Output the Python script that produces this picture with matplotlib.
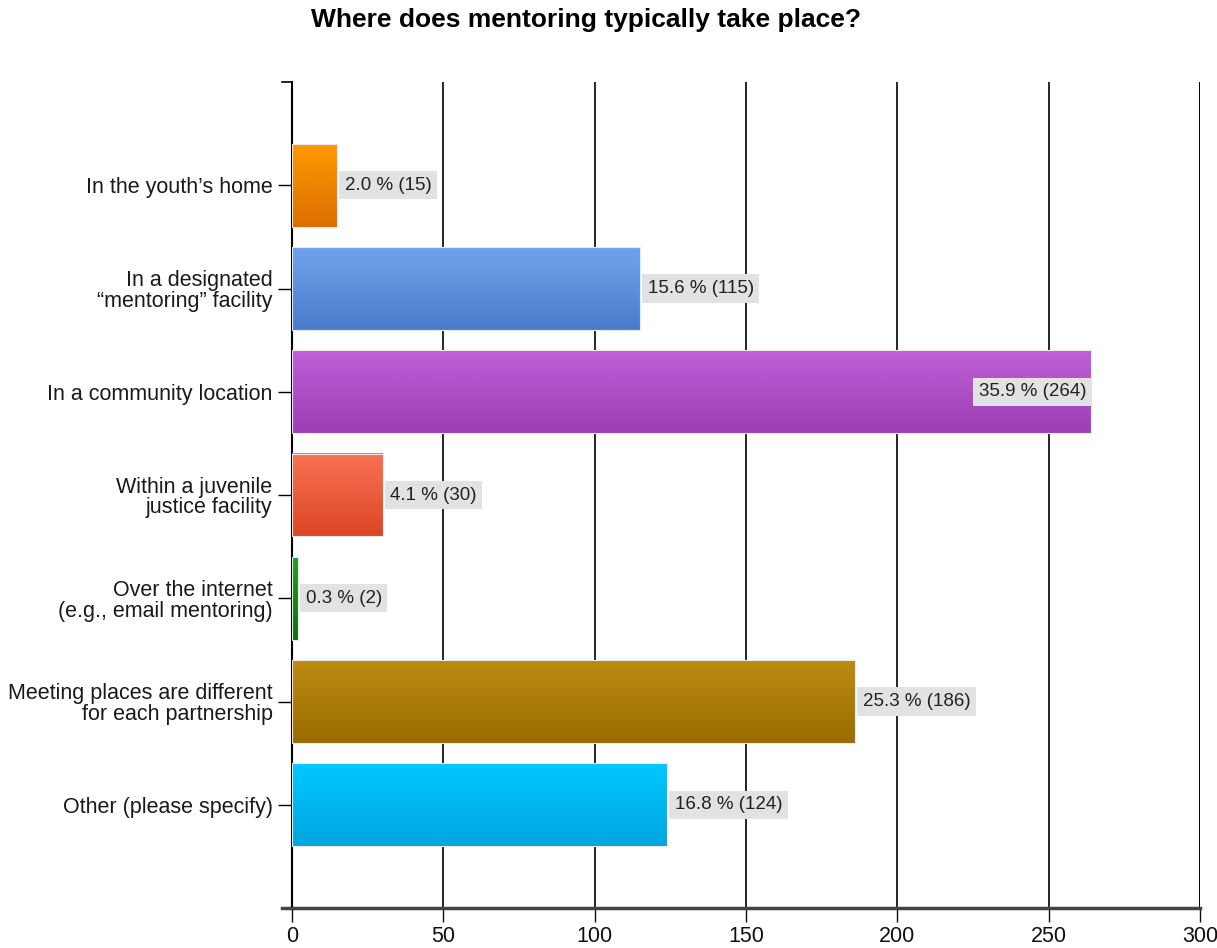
import matplotlib.pyplot as plt
import numpy as np
from matplotlib.colors import LinearSegmentedColormap

plt.rcParams['font.family'] = ['Liberation Sans', 'DejaVu Sans']

categories = [
    "In the youth\u2019s home",
    "In a designated\n\u201cmentoring\u201d facility",
    "In a community location",
    "Within a juvenile\njustice facility",
    "Over the internet\n(e.g., email mentoring)",
    "Meeting places are different\nfor each partnership",
    "Other (please specify)",
]
counts = [15, 115, 264, 30, 2, 186, 124]
percents = [2.0, 15.6, 35.9, 4.1, 0.3, 25.3, 16.8]
# top and bottom colours of each bar's vertical gradient
top_colors = ["#ff9a00", "#70a2ec", "#c060d8", "#f87252", "#2a9a2a", "#bc8c12", "#00c8ff"]
bottom_colors = ["#dc6e00", "#4a7ccc", "#9e3eb4", "#dc4626", "#0e6e0e", "#9a6c00", "#00a6de"]

fig = plt.figure(figsize=(12.17, 9.48), dpi=100)
ax = fig.add_axes([292 / 1217, 1 - 908 / 948, 908 / 1217, 826 / 948])

ax.set_xlim(0, 300)
ax.set_ylim(8, 0)

bar_h = 0.8
grad = np.linspace(0, 1, 64).reshape(-1, 1)
for i, (n, pct) in enumerate(zip(counts, percents)):
    y = i + 1
    cmap = LinearSegmentedColormap.from_list("g", [top_colors[i], bottom_colors[i]])
    ax.imshow(grad, cmap=cmap, aspect="auto", interpolation="bicubic",
              extent=(0, n, y + bar_h / 2, y - bar_h / 2), zorder=3)
    ax.add_patch(plt.Rectangle((0, y - bar_h / 2), n, bar_h, fill=False,
                               edgecolor="#e8e8e8", linewidth=0.8, zorder=4))
    label = f"{pct:.1f} % ({n})"
    box = dict(boxstyle="square,pad=0.3", facecolor="#e2e2e2", edgecolor="none")
    if n > 250:
        ax.text(n - 1.5, y, label, ha="right", va="center", fontsize=13.5,
                color="#222222", bbox=box, zorder=5)
        continue
    ax.text(n + 2.5, y, label, ha="left", va="center", fontsize=13.5,
            color="#222222", bbox=box, zorder=5)

ax.set_xticks(range(0, 301, 50))
ax.set_yticks(range(1, 8))
ax.set_yticklabels(categories, fontsize=15.5, color="#1a1a1a", linespacing=1.0)
ax.tick_params(axis="x", labelsize=15.5, length=10, width=1, colors="#111111", pad=3)
ax.tick_params(axis="y", length=10, width=1, pad=4)
ax.xaxis.grid(True, color="black", linewidth=1.2, zorder=0)
ax.set_axisbelow(True)

ax.spines["top"].set_visible(False)
ax.spines["right"].set_visible(False)
ax.spines["left"].set_linewidth(1.5)
ax.spines["bottom"].set_linewidth(2.5)
ax.spines["bottom"].set_color("#444444")
# the vertical gridline at 300 closes the plot on the right
ax.axvline(300, color="black", linewidth=1.2, zorder=0)
ax.plot([-3.3, 0], [0, 0], color="black", linewidth=1.2, clip_on=False)
ax.plot([-3.3, 0], [8, 8], color="#444444", linewidth=2.5, clip_on=False)

fig.text(586 / 1217, 1 - 20 / 948, "Where does mentoring typically take place?",
         ha="center", va="center", fontsize=19, fontweight="bold")

fig.savefig("out.png", dpi=100)
